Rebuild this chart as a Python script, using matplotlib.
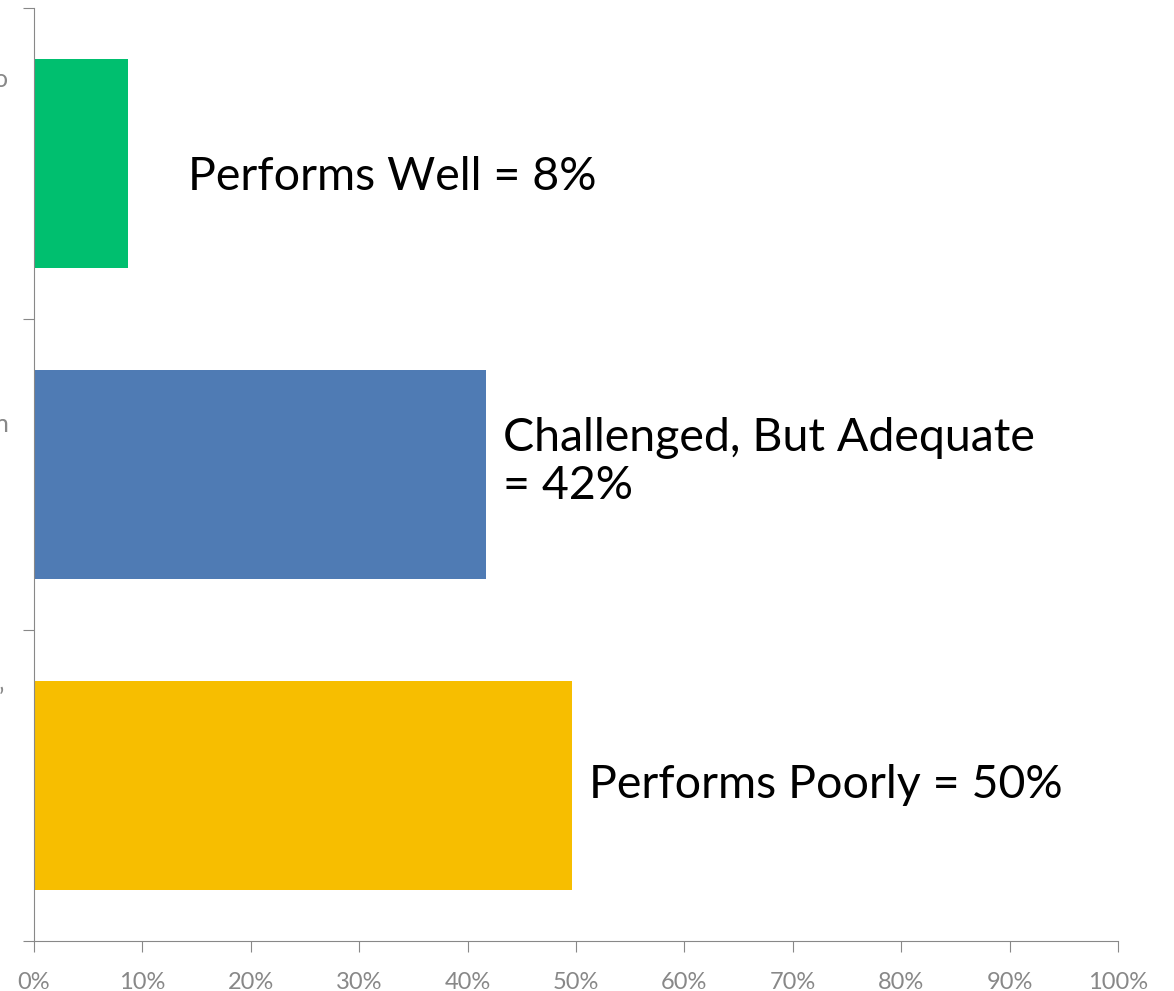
import numpy as np
import matplotlib.pyplot as plt

# data (bottom to top)
categories = ['Performs Poorly', 'Challenged, But Adequate', 'Performs Well']
values = [49.6, 41.7, 8.7]
bar_labels = ['Performs Poorly = 50%', 'Challenged, But Adequate\n= 42%', 'Performs Well = 8%']
colors = ['#F7BE00', '#4F7BB4', '#00BF6F']
x_ticks = np.arange(0, 101, 10)
x_ticklabels = ['%d%%' % t for t in x_ticks]
edge_bits = ['’', 'n', 'o']  # category labels, cut off at the left edge

plt.rcParams['font.family'] = ['Lato', 'DejaVu Sans']

fig = plt.figure(figsize=(11.74, 9.91), dpi=100)
ax = fig.add_axes([34 / 1174, 50 / 991, 1084 / 1174, 933 / 991])

y = np.arange(len(categories))
ax.barh(y, values, height=0.67, color=colors)

ax.set_xlim(0, 100)
ax.set_ylim(-0.5, 2.5)

# labels next to each bar
label_x = [51.2, 43.3, 14.2]
label_dy = [0.0, 0.04, -0.045]
for yi, xi, dy, txt in zip(y, label_x, label_dy, bar_labels):
    ax.text(xi, yi + dy, txt, fontsize=33.5, va='center', ha='left',
            color='black', linespacing=1.17)

# the category labels that got cropped
edge_y = [0.28, 1.16, 2.27]
for yi, txt in zip(edge_y, edge_bits):
    ax.text(-3.0, yi, txt, fontsize=18, color='#888888', ha='center', va='center',
            clip_on=False)

ax.spines['right'].set_color('none')
ax.spines['top'].set_color('none')
ax.spines['left'].set_color('#888888')
ax.spines['bottom'].set_color('#888888')

ax.set_xticks(x_ticks)
ax.set_xticklabels(x_ticklabels)
ax.set_yticks([-0.5, 0.5, 1.5, 2.5])
ax.set_yticklabels([])
ax.tick_params(axis='x', colors='#888888', length=8, labelsize=17, pad=14)
ax.tick_params(axis='y', colors='#888888', length=8)

plt.savefig('out.png', dpi=100)
